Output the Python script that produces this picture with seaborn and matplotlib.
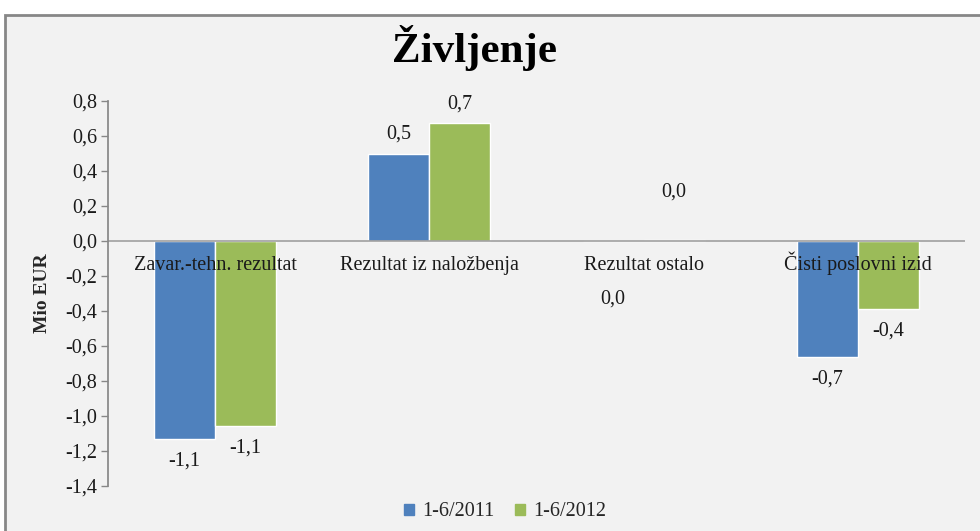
import pandas as pd
import numpy as np
import matplotlib.pyplot as plt
import seaborn as sns
from matplotlib.patches import Rectangle
from matplotlib.ticker import FuncFormatter

# Chart data
categories = ['Zavar.-tehn. rezultat', 'Rezultat iz naložbenja', 'Rezultat ostalo', 'Čisti poslovni izid']
series = ['1-6/2011', '1-6/2012']
values_2011 = [-1.13, 0.50, -0.002, -0.665]
values_2012 = [-1.055, 0.675, 0.006, -0.39]
colors = ['#4F81BD', '#9BBB59']

df = pd.DataFrame({
    'kategorija': categories * 2,
    'obdobje': [series[0]] * 4 + [series[1]] * 4,
    'vrednost': values_2011 + values_2012,
})

sns.set_theme(style='white')
plt.rcParams['font.family'] = ['Liberation Serif', 'DejaVu Serif']


def comma(v, pos=None):
    return f'{round(v, 1) + 0.0:.1f}'.replace('.', ',')


fig = plt.figure(figsize=(9.8, 5.31), dpi=100)
fig.patch.set_facecolor('white')
# outer chart frame, kept behind the axes
fig.patches.append(Rectangle((5 / 980, -0.05), 1.0, 1 - 15 / 531 + 0.05,
                             transform=fig.transFigure, facecolor='#F2F2F2',
                             edgecolor='#878787', linewidth=2, zorder=-5))

ax = fig.add_axes([108 / 980, 1 - 486 / 531, (965 - 108) / 980, (486 - 101) / 531])
ax.set_facecolor('none')

sns.barplot(data=df, x='kategorija', y='vrednost', hue='obdobje',
            palette=colors, width=0.57, saturation=1, ax=ax, legend=False)

for container in ax.containers:
    texts = ax.bar_label(container, labels=[comma(b.get_height()) for b in container],
                         padding=9, fontsize=14.5, color='#1a1a1a')
    for bar, t in zip(container, texts):
        if bar.get_height() > 0:
            t.xyann = (0, 7)

# the near-zero labels in "Rezultat ostalo" are pushed clear of the category text
ax.texts[2].xyann = (0, -35)
ax.texts[6].xyann = (0, 28)

ax.set_ylim(-1.4, 0.8)
ax.set_yticks(np.arange(-1.4, 0.81, 0.2))
ax.yaxis.set_major_formatter(FuncFormatter(comma))
ax.tick_params(axis='y', labelsize=14.5, length=5, width=1, color='#878787',
               left=True, pad=3, labelcolor='#1a1a1a')
ax.set_xticks([])
ax.set_xlabel('')
ax.set_ylabel('Mio EUR', fontsize=14, fontweight='bold', labelpad=10)
ax.set_xlim(-0.5, 3.5)

for side in ['top', 'right', 'bottom']:
    ax.spines[side].set_visible(False)
ax.spines['left'].set_color('#878787')
ax.axhline(0, color='#A0A0A0', linewidth=1.2, zorder=1)

# category labels sit just under the zero line, on top of the bars
for i, cat in enumerate(categories):
    ax.annotate(cat, (i, 0), xytext=(0, -21), textcoords='offset points',
                ha='center', va='baseline', fontsize=14.5, color='#1a1a1a')

fig.text(0.484, 1 - 48 / 531, 'Življenje', ha='center', va='center',
         fontsize=31, fontweight='bold', color='black')

handles = [Rectangle((0, 0), 1, 1, color=c) for c in colors]
fig.legend(handles, series, loc='center', bbox_to_anchor=(505 / 980, 1 - 512 / 531),
           ncol=2, frameon=False, fontsize=14.5, handlelength=0.5, handleheight=0.5,
           handletextpad=0.4, columnspacing=1.0)

plt.savefig('out.png', dpi=100)
plt.close()
